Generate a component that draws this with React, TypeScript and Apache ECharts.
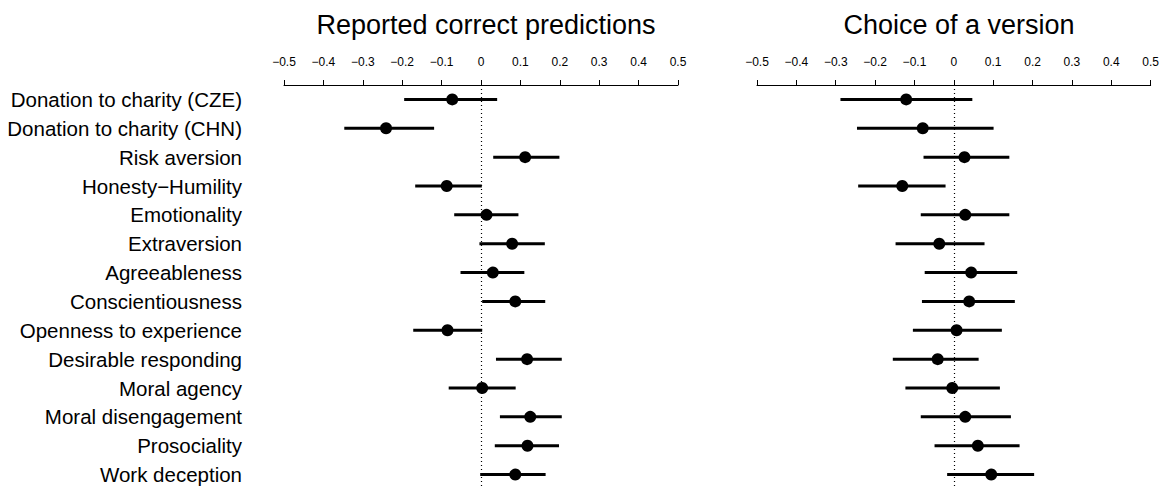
import React, { useEffect, useRef } from "react";
import * as echarts from "echarts";

const categories = [
  "Donation to charity (CZE)",
  "Donation to charity (CHN)",
  "Risk aversion",
  "Honesty\u2212Humility",
  "Emotionality",
  "Extraversion",
  "Agreeableness",
  "Conscientiousness",
  "Openness to experience",
  "Desirable responding",
  "Moral agency",
  "Moral disengagement",
  "Prosociality",
  "Work deception",
];

const panelTitles = ["Reported correct predictions", "Choice of a version"];

const tickLabels = [
  "\u22120.5", "\u22120.4", "\u22120.3", "\u22120.2", "\u22120.1",
  "0", "0.1", "0.2", "0.3", "0.4", "0.5",
];

// Reported correct predictions
const predEst = [-0.073, -0.241, 0.112, -0.087, 0.014, 0.079, 0.030, 0.087, -0.085, 0.117, 0.003, 0.125, 0.118, 0.087];
const predLo = [-0.195, -0.347, 0.031, -0.167, -0.068, -0.004, -0.052, 0.003, -0.172, 0.038, -0.082, 0.048, 0.035, -0.002];
const predHi = [0.041, -0.119, 0.199, 0.002, 0.095, 0.162, 0.110, 0.163, 0.003, 0.205, 0.088, 0.205, 0.198, 0.164];

// Choice of a version
const verEst = [-0.121, -0.079, 0.027, -0.131, 0.029, -0.037, 0.044, 0.039, 0.007, -0.041, -0.004, 0.029, 0.061, 0.095];
const verLo = [-0.288, -0.246, -0.077, -0.243, -0.084, -0.148, -0.074, -0.081, -0.104, -0.155, -0.123, -0.084, -0.049, -0.017];
const verHi = [0.047, 0.101, 0.141, -0.021, 0.141, 0.078, 0.161, 0.155, 0.122, 0.063, 0.117, 0.145, 0.167, 0.204];

const FONT = "'Liberation Sans', Arial, Helvetica, sans-serif";

export default function App() {
  const ref = useRef<HTMLDivElement>(null);

  useEffect(() => {
    if (!ref.current) return;
    const chart = echarts.init(ref.current, undefined, { renderer: "svg" });

    const panels = [
      { est: predEst, lo: predLo, hi: predHi, left: 284, center: 481 },
      { est: verEst, lo: verLo, hi: verHi, left: 757, center: 954 },
    ];

    const grids = panels.map((p) => ({
      left: p.left,
      width: 394,
      top: 85,
      height: 406,
      containLabel: false,
    }));

    const xAxes = panels.map((_, i) => ({
      type: "value",
      gridIndex: i,
      position: "top",
      min: -0.5,
      max: 0.5,
      interval: 0.1,
      axisLine: { show: true, lineStyle: { color: "#000", width: 1 } },
      axisTick: { show: true, inside: false, length: 5, lineStyle: { color: "#000", width: 1 } },
      axisLabel: {
        show: true,
        color: "#000",
        fontSize: 12,
        fontFamily: FONT,
        margin: 17,
        showMinLabel: true,
        showMaxLabel: true,
        formatter: (v: number) => tickLabels[Math.round((v + 0.5) * 10)],
      },
      splitLine: { show: false },
    }));

    const yAxes = panels.map((_, i) => ({
      type: "category",
      gridIndex: i,
      data: categories,
      inverse: true,
      axisLine: { show: false },
      axisTick: { show: false },
      splitLine: { show: false },
      axisLabel: {
        show: i === 0,
        color: "#000",
        fontSize: 20.5,
        fontFamily: FONT,
        margin: 42,
      },
    }));

    const series: any[] = [];
    panels.forEach((p, i) => {
      series.push({
        type: "custom",
        xAxisIndex: i,
        yAxisIndex: i,
        data: categories.map((c, k) => [k, p.lo[k], p.hi[k]]),
        encode: { x: [1, 2], y: 0 },
        renderItem: (params: any, api: any) => {
          const idx = api.value(0);
          const a = api.coord([api.value(1), idx]);
          const b = api.coord([api.value(2), idx]);
          return {
            type: "line",
            shape: { x1: a[0], y1: a[1], x2: b[0], y2: b[1] },
            style: { stroke: "#000", lineWidth: 3 },
          };
        },
        z: 2,
      });
      series.push({
        type: "scatter",
        xAxisIndex: i,
        yAxisIndex: i,
        data: categories.map((c, k) => [p.est[k], c]),
        symbol: "circle",
        symbolSize: 12,
        itemStyle: { color: "#000", opacity: 1 },
        z: 3,
        markLine: {
          silent: true,
          symbol: "none",
          label: { show: false },
          lineStyle: { color: "#000", type: [1, 3], width: 1.2 },
          data: [{ xAxis: 0 }],
          z: 1,
        },
      });
    });

    chart.setOption({
      animation: false,
      textStyle: { fontFamily: FONT },
      title: panels.map((p, i) => ({
        text: panelTitles[i],
        left: p.center,
        top: 6,
        textAlign: "center",
        textStyle: { fontSize: 27, fontWeight: "normal", color: "#000", fontFamily: FONT },
      })),
      grid: grids,
      xAxis: xAxes,
      yAxis: yAxes,
      series,
    });

    return () => chart.dispose();
  }, []);

  return (
    <div
      ref={ref}
      style={{ position: "absolute", left: 0, top: 0, width: 1162, height: 489, background: "#fff" }}
    />
  );
}
